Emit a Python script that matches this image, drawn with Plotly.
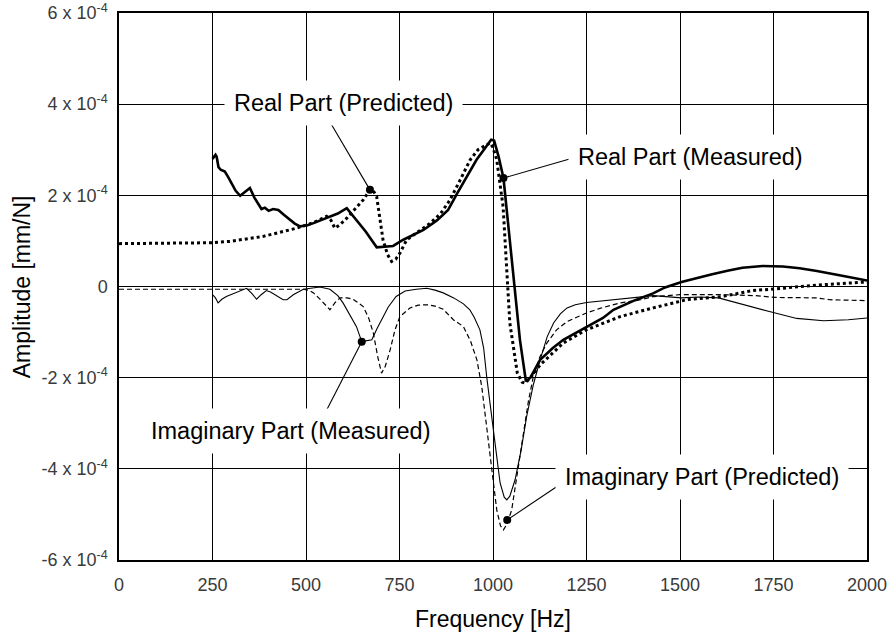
import numpy as np
import plotly.graph_objects as go

SCALE = 1e-4  # values below are in units of 1e-4 mm/N

# Real part, measured
real_meas_f = [250, 254, 258, 261, 266, 272, 283, 292, 301, 312, 324, 337, 350, 362, 375, 381, 390,
               400, 412, 426, 440, 457, 470, 484, 502, 520, 555, 585, 609, 630, 660, 689, 710, 733,
               759, 785, 814, 850, 880, 902, 930, 956, 980, 995, 1003, 1015, 1028, 1050, 1072, 1088,
               1100, 1126, 1160, 1188, 1250, 1294, 1322, 1380, 1428, 1460, 1504, 1550, 1586, 1630,
               1667, 1721, 1775, 1820, 1866, 1930, 2000]
real_meas_a = [2.80, 2.85, 2.89, 2.85, 2.62, 2.56, 2.52, 2.40, 2.27, 2.10, 1.99, 2.08, 2.16, 1.95,
               1.78, 1.70, 1.73, 1.66, 1.70, 1.68, 1.58, 1.46, 1.38, 1.32, 1.34, 1.39, 1.50, 1.60,
               1.72, 1.50, 1.20, 0.86, 0.88, 0.89, 1.02, 1.12, 1.24, 1.45, 1.68, 2.01, 2.40, 2.78,
               3.05, 3.22, 3.20, 2.85, 2.38, 0.62, -1.17, -2.08, -2.00, -1.61, -1.35, -1.17, -0.88,
               -0.69, -0.51, -0.30, -0.15, -0.02, 0.10, 0.20, 0.27, 0.35, 0.41, 0.45, 0.44, 0.40,
               0.34, 0.24, 0.13]

# Real part, predicted
real_pred_f = [0, 100, 200, 249, 297, 386, 475, 520, 555, 567, 577, 590, 609, 630, 653, 671, 680,
               689, 700, 706, 718, 729, 740, 751, 769, 800, 832, 860, 885, 910, 939, 960, 983, 992,
               1000, 1010, 1027, 1045, 1065, 1078, 1086, 1100, 1126, 1160, 1188, 1250, 1300, 1340,
               1428, 1518, 1612, 1694, 1757, 1866, 2000]
real_pred_a = [0.94, 0.95, 0.95, 0.96, 0.99, 1.10, 1.28, 1.40, 1.54, 1.45, 1.28, 1.35, 1.50, 1.70,
               1.90, 2.12, 2.10, 1.97, 1.40, 1.02, 0.70, 0.55, 0.60, 0.73, 1.02, 1.20, 1.39, 1.60,
               1.90, 2.30, 2.78, 3.00, 3.11, 3.15, 3.05, 2.78, 1.75, -0.80, -1.90, -2.10, -2.12,
               -2.00, -1.72, -1.45, -1.24, -0.95, -0.78, -0.66, -0.47, -0.29, -0.22, -0.09, -0.05,
               0.03, 0.10]

# Imaginary part, measured
imag_meas_f = [250, 258, 265, 275, 287, 310, 341, 355, 368, 380, 394, 405, 420, 439, 449, 466, 493,
               520, 537, 564, 585, 599, 615, 635, 649, 660, 676, 690, 706, 720, 741, 765, 795, 823,
               845, 867, 895, 921, 938, 950, 965, 975, 983, 990, 997, 1008, 1019, 1030, 1037, 1045,
               1059, 1075, 1090, 1108, 1126, 1145, 1162, 1180, 1198, 1220, 1250, 1300, 1340, 1429,
               1504, 1550, 1603, 1660, 1739, 1812, 1884, 1950, 2000]
imag_meas_a = [-0.18, -0.25, -0.36, -0.28, -0.22, -0.15, -0.04, -0.15, -0.28, -0.18, -0.09, -0.12,
               -0.20, -0.29, -0.29, -0.18, -0.06, -0.02, -0.01, -0.06, -0.20, -0.36, -0.60, -0.88,
               -1.21, -1.19, -1.17, -0.92, -0.66, -0.45, -0.22, -0.10, -0.06, -0.04, -0.08, -0.14,
               -0.25, -0.38, -0.51, -0.68, -0.95, -1.35, -1.97, -2.40, -2.85, -3.60, -4.31, -4.62,
               -4.68, -4.60, -4.24, -3.60, -2.85, -2.15, -1.61, -1.10, -0.80, -0.60, -0.47, -0.40,
               -0.35, -0.31, -0.28, -0.20, -0.25, -0.23, -0.25, -0.38, -0.55, -0.70, -0.75, -0.73,
               -0.69]

# Imaginary part, predicted
imag_pred_f = [0, 250, 493, 510, 520, 540, 564, 578, 591, 610, 626, 653, 668, 680, 692, 702, 712,
               725, 738, 751, 778, 800, 823, 845, 867, 894, 921, 940, 957, 970, 983, 995, 1010, 1020,
               1028, 1038, 1050, 1065, 1081, 1095, 1108, 1125, 1144, 1170, 1198, 1250, 1286, 1340,
               1395, 1429, 1500, 1612, 1700, 1757, 1866, 1900, 2000]
imag_pred_a = [-0.06, -0.06, -0.06, -0.09, -0.14, -0.30, -0.51, -0.35, -0.25, -0.25, -0.28, -0.44,
               -0.70, -1.02, -1.55, -1.90, -1.75, -1.39, -0.95, -0.66, -0.47, -0.41, -0.40, -0.43,
               -0.50, -0.73, -0.88, -1.20, -1.61, -2.20, -3.10, -4.00, -4.90, -5.25, -5.34, -5.20,
               -4.90, -4.10, -3.22, -2.50, -1.97, -1.55, -1.24, -0.95, -0.77, -0.58, -0.48, -0.36,
               -0.29, -0.22, -0.18, -0.18, -0.20, -0.24, -0.25, -0.29, -0.31]

# Callout labels: text, text centre (Hz, 1e-4), leader start (Hz, 1e-4), point on curve (Hz, 1e-4)
label_text = ["Real Part (Predicted)", "Real Part (Measured)",
              "Imaginary Part (Measured)", "Imaginary Part (Predicted)"]
label_pos_f = [601, 1527, 460, 1558]
label_pos_a = [4.02, 2.84, -3.17, -4.17]
leader_f = [559, 1214, 556, 1198]
leader_a = [3.68, 2.82, -2.70, -4.24]
point_f = [671, 1028, 649, 1038]
point_a = [2.12, 2.38, -1.21, -5.12]

# Axis ticks
x_ticks = [0, 250, 500, 750, 1000, 1250, 1500, 1750, 2000]
y_ticks = [-6, -4, -2, 0, 2, 4, 6]
y_tick_text = ["-6 x 10<sup>-4</sup>", "-4 x 10<sup>-4</sup>", "-2 x 10<sup>-4</sup>", "0",
               "2 x 10<sup>-4</sup>", "4 x 10<sup>-4</sup>", "6 x 10<sup>-4</sup>"]

FONT = "Liberation Sans, Arial, sans-serif"


def scaled(vals):
    return np.array(vals) * SCALE


fig = go.Figure()

fig.add_trace(go.Scatter(x=imag_pred_f, y=scaled(imag_pred_a), mode="lines",
                         line=dict(color="black", width=1.2, dash="5px,3px"),
                         name="Imaginary Part (Predicted)"))
fig.add_trace(go.Scatter(x=imag_meas_f, y=scaled(imag_meas_a), mode="lines",
                         line=dict(color="black", width=1.1),
                         name="Imaginary Part (Measured)"))
fig.add_trace(go.Scatter(x=real_pred_f, y=scaled(real_pred_a), mode="lines",
                         line=dict(color="black", width=3, dash="dot"),
                         name="Real Part (Predicted)"))
fig.add_trace(go.Scatter(x=real_meas_f, y=scaled(real_meas_a), mode="lines",
                         line=dict(color="black", width=2.6),
                         name="Real Part (Measured)"))

# leader lines from each label to its curve
for lf, la, pf, pa in zip(leader_f, leader_a, point_f, point_a):
    fig.add_shape(type="line", xref="x", yref="y",
                  x0=lf, y0=la * SCALE, x1=pf, y1=pa * SCALE,
                  line=dict(color="black", width=1.1), layer="above")

fig.add_trace(go.Scatter(x=point_f, y=scaled(point_a), mode="markers",
                         marker=dict(color="black", size=8), hoverinfo="skip"))

for txt, tf, ta in zip(label_text, label_pos_f, label_pos_a):
    fig.add_annotation(x=tf, y=ta * SCALE, xref="x", yref="y", text=txt, showarrow=False,
                       xanchor="center", yanchor="middle", bgcolor="white", borderpad=9,
                       font=dict(family=FONT, size=23.5, color="black"))

# axis titles
fig.add_annotation(x=0.5, y=-0.108, xref="paper", yref="paper", text="Frequency [Hz]",
                   showarrow=False, xanchor="center", yanchor="middle",
                   font=dict(family=FONT, size=23, color="black"))
fig.add_annotation(x=-0.13, y=0.5, xref="paper", yref="paper", text="Amplitude [mm/N]",
                   showarrow=False, xanchor="center", yanchor="middle", textangle=-90,
                   font=dict(family=FONT, size=23, color="black"))

fig.update_xaxes(range=[0, 2000], tickvals=x_ticks, ticks="", showgrid=True,
                 gridcolor="black", gridwidth=1, zeroline=False, automargin=False,
                 showline=True, linecolor="black", linewidth=1.5, mirror=True,
                 ticklabelstandoff=8,
                 tickfont=dict(family=FONT, size=18, color="#3a3a3a"))
fig.update_yaxes(range=[-6 * SCALE, 6 * SCALE], tickvals=scaled(y_ticks), ticktext=y_tick_text,
                 ticks="", showgrid=True, gridcolor="black", gridwidth=1, zeroline=False,
                 automargin=False,
                 showline=True, linecolor="black", linewidth=1.5, mirror=True,
                 ticklabelstandoff=6,
                 tickfont=dict(family=FONT, size=18, color="#3a3a3a"))

fig.update_layout(width=888, height=634, margin=dict(l=119, r=21, t=13, b=74),
                  paper_bgcolor="white", plot_bgcolor="white", showlegend=False)

fig.write_html("out.html")
